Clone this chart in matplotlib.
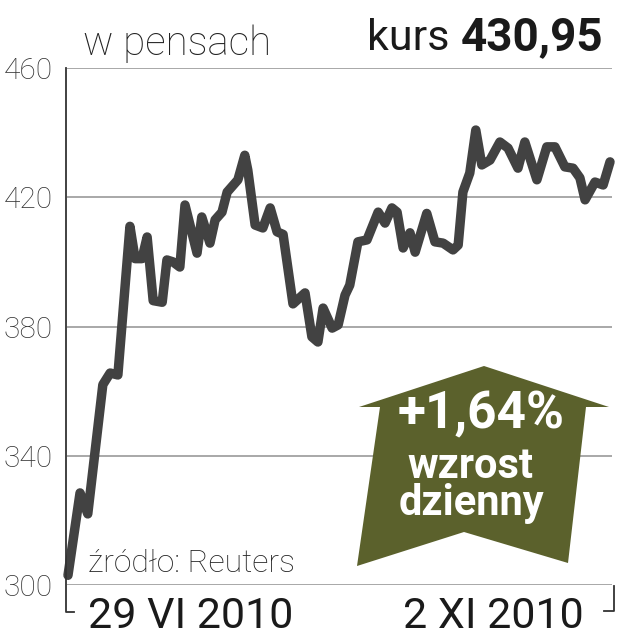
import matplotlib
matplotlib.use("Agg")
import matplotlib.pyplot as plt
from matplotlib.patches import Polygon
from matplotlib.lines import Line2D

plt.rcParams['font.family'] = ['Roboto', 'DejaVu Sans']

# ---- data (days since 29 VI 2010, price in pence) ----
days = [0, 2.8, 4.6, 8.1, 9.8, 11.6, 14.4, 15.6, 17.2, 18.4, 19.8, 21.9, 23.0, 24.4,
        26.0, 27.2, 30.0, 31.1, 33.0, 34.2, 35.8, 37.0, 39.5, 41.1, 41.8, 43.5, 45.3,
        47.0, 48.6, 50.0, 52.3, 55.1, 56.7, 58.1, 59.3, 61.4, 62.8, 64.4, 65.5, 67.4,
        69.5, 72.1, 73.7, 75.3, 76.5, 77.9, 79.5, 80.7, 83.4, 85.3, 87.2, 89.5, 90.7,
        91.8, 93.4, 94.8, 96.2, 98.1, 100.4, 102.3, 104.6, 106.2, 109.0, 111.3, 113.2,
        115.5, 117.4, 119.0, 120.2, 122.5, 124.4, 126]
price = [303, 328.5, 322, 362, 365.6, 365, 411, 401, 401, 407.7, 388, 387.5, 400.6, 400,
         398.4, 417.6, 402.7, 413.9, 405.8, 413, 415.4, 421.6, 425.4, 433, 428.4, 411.4,
         410.5, 416.7, 409.3, 408.5, 387, 390.4, 376.8, 375.2, 385.7, 379.5, 380.5, 389.7,
         392.8, 406.2, 406.8, 415.4, 412, 416.7, 415.4, 404.3, 409, 403, 415, 406.2, 405.8,
         403.7, 405.2, 421.6, 427.5, 440.8, 430, 431.5, 437.1, 435.2, 429, 437.1, 425.4,
         435.6, 435.6, 429.4, 429, 426, 419.2, 424.7, 423.8, 430.95]
yticks = [300, 340, 380, 420, 460]
date_labels = ["29 VI 2010", "2 XI 2010"]
unit_label = "w pensach"
kurs_label = "kurs"
kurs_value = "430,95"
change_label = "+1,64%"
change_text = ["wzrost", "dzienny"]
source = "źródło: Reuters"

W, H = 617, 640
fig = plt.figure(figsize=(W / 100, H / 100), dpi=100)

def fx(x):
    return x / W

def fy(y):
    return 1 - y / H

ax = fig.add_axes([fx(67), fy(585), fx(612) - fx(67), fy(68) - fy(585)])
ax.set_xlim(-0.23, 126.46)
ax.set_ylim(300, 460)
for s in ax.spines.values():
    s.set_visible(False)
ax.set_xticks([])
ax.set_yticks(yticks)
ax.tick_params(axis='y', length=0, pad=10, labelsize=21.5, labelcolor='#333333')
for lab in ax.get_yticklabels():
    lab.set_fontweight('light')
for v in yticks:
    ax.axhline(v, color='#9a9a9a', lw=1.2, zorder=1)

ax.plot(days, price, color='#424242', lw=6.8, solid_joinstyle='round',
        solid_capstyle='round', zorder=3, clip_on=False)

# axis brackets
fig.add_artist(Line2D([fx(66), fx(66), fx(74)], [fy(68), fy(612), fy(612)],
                      color='#333333', lw=1.3))
fig.add_artist(Line2D([fx(614), fx(614), fx(604)], [fy(586), fy(611), fy(611)],
                      color='#333333', lw=1.3))

# badge arrow
pts = [(484, 366), (609, 407), (586, 407), (568, 563), (464, 532), (357, 566),
       (380, 407), (359, 407)]
badge = Polygon([(fx(x), fy(y)) for x, y in pts], closed=True,
                transform=fig.transFigure, facecolor='#5b612c', edgecolor='none', zorder=5)
fig.add_artist(badge)
fig.text(fx(481), fy(414), change_label, ha='center', va='center', color='white',
         fontsize=37, fontweight='bold', zorder=6)
fig.text(fx(470), fy(466), change_text[0], ha='center', va='center', color='white',
         fontsize=30, fontweight='bold', zorder=6)
fig.text(fx(471), fy(503), change_text[1], ha='center', va='center', color='white',
         fontsize=30, fontweight='bold', zorder=6)

# header texts
fig.text(fx(83), fy(55), unit_label, ha='left', va='baseline', fontsize=29,
         fontweight='light', color='#222222')
fig.text(fx(603), fy(50), kurs_value, ha='right', va='baseline', fontsize=33,
         fontweight='bold', color='#1a1a1a')
fig.text(fx(450), fy(50), kurs_label, ha='right', va='baseline', fontsize=31,
         fontweight='normal', color='#1a1a1a')

# source
fig.text(fx(88), fy(572), source, ha='left', va='baseline', fontsize=23,
         fontweight='light', color='#222222')

# date labels
fig.text(fx(88), fy(628), date_labels[0], ha='left', va='baseline', fontsize=31,
         fontweight='normal', color='#1a1a1a')
fig.text(fx(584), fy(628), date_labels[1], ha='right', va='baseline', fontsize=31,
         fontweight='normal', color='#1a1a1a')

fig.savefig("out.png", dpi=100)
